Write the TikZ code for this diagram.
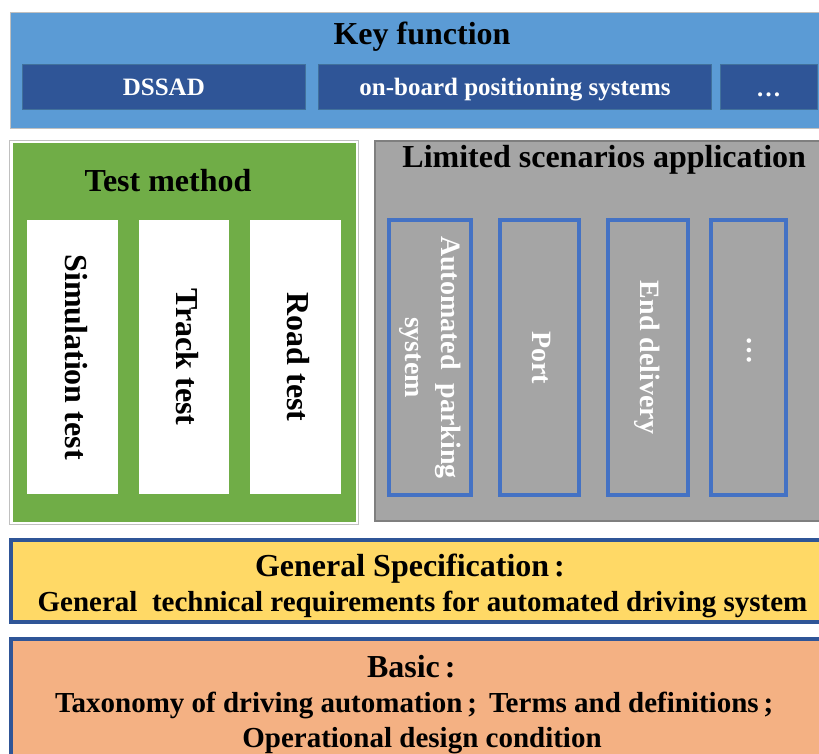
\documentclass[tikz,border=0pt]{standalone}
\usepackage{fontspec}
\setmainfont{Liberation Serif}
\newcommand\szTitle{\fontsize{32}{38}\selectfont}
\newcommand\szBody{\fontsize{29}{36}\selectfont}
\newcommand\szRot{\fontsize{28}{36.5}\selectfont}
\newcommand\szKey{\fontsize{25}{28}\selectfont}
\definecolor{keyblue}{HTML}{5B9BD5}
\definecolor{darkblue}{HTML}{2F5597}
\definecolor{darkedge}{HTML}{41719C}
\definecolor{tmgreen}{HTML}{70AD47}
\definecolor{lsgray}{HTML}{A5A5A5}
\definecolor{lsedge}{HTML}{7F7F7F}
\definecolor{outblue}{HTML}{4472C4}
\definecolor{gsyellow}{HTML}{FFD966}
\definecolor{basorange}{HTML}{F4B183}
\definecolor{frame}{HTML}{C0C0C0}
\begin{document}
\begin{tikzpicture}[x=1pt,y=-1pt,
  every node/.style={rectangle, inner sep=0pt, outer sep=0pt, anchor=center},
  capmid/.style={text height=#1, text depth=0pt},
  onbase/.style={text height=0pt, text depth=0pt},
  keyframe/.style={fill=keyblue, draw=frame, line width=0.8pt},
  darkbox/.style={fill=darkblue, draw=darkedge, line width=1pt, text=white, font=\bfseries\szKey, capmid=16.5pt},
  titletext/.style={text=black, font=\bfseries\szTitle, capmid=21.1pt},
  bodytext/.style={text=black, font=\bfseries\szBody, capmid=19.1pt},
  tmframe/.style={fill=white, draw=frame, line width=0.8pt},
  tmfill/.style={fill=tmgreen},
  whitebox/.style={fill=white, rotate=-90, text=black, font=\bfseries\szTitle, capmid=15pt},
  lsbox/.style={fill=lsgray, draw=lsedge, line width=2pt},
  scenbox/.style={draw=outblue, line width=4pt, rotate=-90, text=white, align=center, font=\bfseries\szRot},
  bandbox/.style={draw=darkblue, line width=4pt}
]
\useasboundingbox (0,0) rectangle (819,754);
\clip (0,0) rectangle (819,754);
\fill[white] (0,0) rectangle (819,754);

% Key function
\node[keyframe, minimum width=811.3pt, minimum height=116pt] (keyfn) at (416.35,70.7) {};
\node[titletext] (keytitle) at (422,34) {Key function};
\node[darkbox, minimum width=282.3pt, minimum height=45.7pt] (dssad) at (163.85,87.15) {DSSAD};
\node[darkbox, minimum width=393.4pt, minimum height=45.7pt] (onboard) at (515,87.15) {on-board positioning systems};
\node[darkbox, minimum width=97.3pt, minimum height=45.7pt] (keydots) at (768.65,87.15) {};
\node[onbase, text=white, font=\bfseries\szKey] (keydotstext) at (768.65,97) {…};

% Test method
\node[tmframe, minimum width=348.8pt, minimum height=383.5pt] (tmframe) at (183.9,332.25) {};
\node[tmfill, minimum width=343.1pt, minimum height=378.8pt] (tm) at (184.25,332.1) {};
\node[titletext] (tmtitle) at (168,181) {Test method};
\node[whitebox, minimum width=274pt, minimum height=90.4pt] (sim) at (72.5,357) {Simulation test};
\node[whitebox, minimum width=274pt, minimum height=90pt] (track) at (184.3,357) {Track test};
\node[whitebox, minimum width=274pt, minimum height=90.7pt] (road) at (295.35,357) {Road test};

% Limited scenarios application
\node[lsbox, minimum width=448pt, minimum height=379.5pt] (ls) at (599,331.25) {};
\node[titletext] (lstitle) at (604.2,157) {Limited scenarios application};
\node[scenbox, minimum width=275.6pt, minimum height=82.6pt] (park) at (430,357.5) {Automated~~parking\\system};
\node[scenbox, capmid=13.5pt, minimum width=275.6pt, minimum height=78.7pt] (port) at (539.65,357.5) {Port};
\node[scenbox, capmid=15pt, minimum width=275.6pt, minimum height=80pt] (enddel) at (648,357.5) {End delivery};
\node[scenbox, minimum width=275.6pt, minimum height=75pt] (scendots) at (748.8,357.5) {};
\node[onbase, rotate=-90, text=white, font=\bfseries\szRot] (scendotstext) at (747,350) {…};

% General specification
\node[bandbox, fill=gsyellow, minimum width=811.7pt, minimum height=82.3pt] (gs) at (417.15,580.85) {};
\node[titletext, anchor=west] (gstitle) at (255,566) {General Specification\kern5pt:};
\node[bodytext] (gsbody) at (422.5,602) {General~~technical requirements for automated driving system};

% Basic
\node[bandbox, fill=basorange, minimum width=811.7pt, minimum height=121.2pt] (basic) at (417.15,699.4) {};
\node[titletext, anchor=west] (bastitle) at (367,667) {Basic\kern5pt:};
\node[bodytext, anchor=west] (basline1) at (55,703) {Taxonomy of driving automation\kern5pt;\kern12pt Terms and definitions\kern5pt;};
\node[bodytext] (basline2) at (422,738) {Operational design condition};
\end{tikzpicture}
\end{document}
